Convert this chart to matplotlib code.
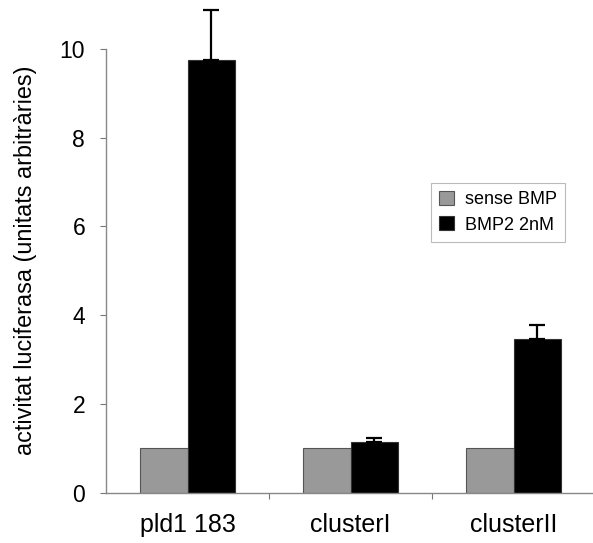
import matplotlib
matplotlib.use('Agg')
import matplotlib.pyplot as plt
import numpy as np

plt.rcParams['font.family'] = ['Liberation Sans', 'DejaVu Sans']

# Dades
categories = ['pld1 183', 'clusterI', 'clusterII']
sense_bmp = [1.0, 1.0, 1.0]
bmp2 = [9.75, 1.14, 3.45]
bmp2_err = [1.13, 0.08, 0.32]
series_labels = ['sense BMP', 'BMP2 2nM']

fig = plt.figure(figsize=(5.93, 5.43), dpi=100)
ax = fig.add_axes([0.1787, 0.093, 0.8196, 0.8168])

x = np.arange(len(categories))
w = 0.29

ax.bar(x - w / 2, sense_bmp, w, color='#999999', edgecolor='#555555',
       linewidth=0.8, label=series_labels[0])
ax.bar(x + w / 2, bmp2, w, color='#000000', edgecolor='#333333',
       linewidth=0.8, label=series_labels[1])

# Barres d'error només cap amunt
ax.errorbar(x + w / 2, bmp2, yerr=[np.zeros(len(bmp2)), bmp2_err], fmt='none',
            ecolor='black', elinewidth=1.6, capsize=6, capthick=1.6, clip_on=False)

ax.set_xlim(-0.5, 2.48)
ax.set_ylim(0, 10)
ax.set_yticks([0, 2, 4, 6, 8, 10])

# Marques de l'eix x entre categories
ax.set_xticks([0.5, 1.5], minor=False)
ax.set_xticklabels([])
ax.set_xticks(x, minor=True)
ax.set_xticklabels(categories, minor=True, fontsize=18)
ax.tick_params(axis='x', which='minor', length=0, pad=15)
ax.tick_params(axis='x', which='major', length=4, color='#777777', direction='out')
ax.tick_params(axis='y', length=4, color='#777777', labelsize=16.5, pad=11)

for s in ['top', 'right']:
    ax.spines[s].set_visible(False)
for s in ['left', 'bottom']:
    ax.spines[s].set_color('#888888')
    ax.spines[s].set_linewidth(1.0)

ax.set_ylabel('activitat luciferasa (unitats arbitràries)', fontsize=16.8)
ax.yaxis.set_label_coords(-0.142, 0.524)

leg = ax.legend(loc='upper left', bbox_to_anchor=(0.669, 0.698), borderaxespad=0,
                fontsize=13, handlelength=0.8, handleheight=0.8, fancybox=False,
                edgecolor='#bbbbbb', framealpha=1, borderpad=0.45, labelspacing=0.45,
                handletextpad=0.6)
leg.get_frame().set_linewidth(0.8)

fig.savefig('out.png', dpi=100)
